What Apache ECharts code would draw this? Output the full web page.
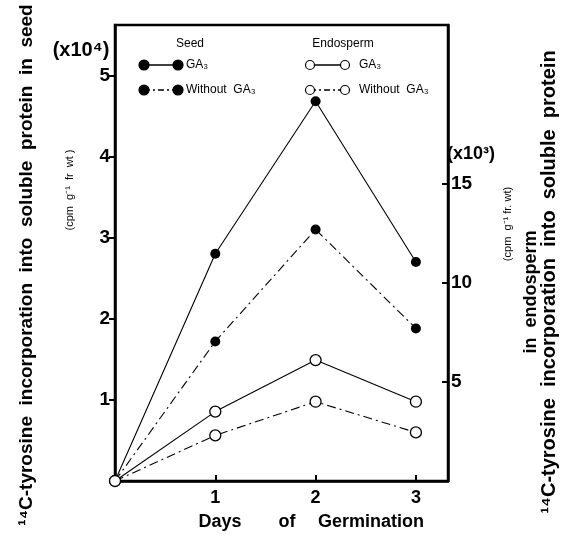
<!DOCTYPE html>
<html>
<head>
<meta charset="utf-8">
<script src="https://cdn.jsdelivr.net/npm/echarts@6/dist/echarts.min.js"></script>
<style>html,body{margin:0;padding:0;background:#fff;}#c{width:563px;height:536px;}</style>
</head>
<body>
<div id="c"></div>
<script>
// ---- data ----
const days = [0, 1, 2, 3];
const seedGA3 = [0, 2.8, 4.68, 2.7];          // left axis (x10^4)
const seedNoGA3 = [0, 1.72, 3.1, 1.88];       // left axis (x10^4)
const endoGA3 = [0, 3.5, 6.1, 4.0];           // right axis (x10^3)
const endoNoGA3 = [0, 2.3, 4.0, 2.45];        // right axis (x10^3)
const xTickLabels = [1, 2, 3];
const leftTickLabels = [1, 2, 3, 4, 5];
const rightTickLabels = [5, 10, 15];

const pair = (xs, ys) => xs.map((x, i) => [x, ys[i]]);
const chart = echarts.init(document.getElementById('c'));
const boldFont = 'Liberation Sans';
const dashDot = [9, 4, 2, 4];

function mk(name, data, yIdx, filled, dashed) {
  return {
    name, type: 'line', yAxisIndex: yIdx, data,
    symbol: 'circle', symbolSize: filled ? 10 : 11,
    itemStyle: { color: filled ? '#000' : '#fff', borderColor: '#000', borderWidth: filled ? 0 : 1.3 },
    lineStyle: { color: '#000', width: 1.1, type: dashed ? dashDot : 'solid' },
    showSymbol: true, z: 3,
    emphasis: { disabled: true }, animation: false
  };
}

const option = {
  animation: false,
  grid: { left: 115, right: 115, top: 25, bottom: 55, show: true, borderColor: '#000', borderWidth: 2.5, backgroundColor: 'transparent' },
  xAxis: {
    type: 'value', min: 0, max: 3.32, interval: 1,
    axisLine: { lineStyle: { color: '#000', width: 2.5 } },
    axisTick: { inside: true, length: 6, lineStyle: { color: '#000', width: 2 }, customValues: xTickLabels },
    axisLabel: { customValues: xTickLabels, color: '#000', fontFamily: boldFont, fontWeight: 'bold', fontSize: 18, margin: 8 },
    splitLine: { show: false }
  },
  yAxis: [{
    type: 'value', min: 0, max: 5.62, interval: 1, position: 'left',
    axisLine: { show: true, lineStyle: { color: '#000', width: 2.5 } },
    axisTick: { show: true, inside: false, length: 6, lineStyle: { color: '#000', width: 2 }, customValues: leftTickLabels },
    axisLabel: { customValues: leftTickLabels, color: '#000', fontFamily: boldFont, fontWeight: 'bold', fontSize: 19, margin: 5 },
    splitLine: { show: false }
  }, {
    type: 'value', min: 0, max: 23.0, interval: 5, position: 'right',
    axisLine: { show: true, lineStyle: { color: '#000', width: 2.5 } },
    axisTick: { show: true, inside: true, length: 6, lineStyle: { color: '#000', width: 2 }, customValues: rightTickLabels },
    axisLabel: { customValues: rightTickLabels, color: '#000', fontFamily: boldFont, fontWeight: 'bold', fontSize: 19, margin: 3 },
    splitLine: { show: false }
  }],
  series: [
    mk('Seed GA₃', pair(days, seedGA3), 0, true, false),
    mk('Seed Without GA₃', pair(days, seedNoGA3), 0, true, true),
    mk('Endosperm GA₃', pair(days, endoGA3), 1, false, false),
    mk('Endosperm Without GA₃', pair(days, endoNoGA3), 1, false, true)
  ],
  graphic: (function () {
    const g = [];
    const txt = (x, y, text, size, weight, rot, align) => ({
      type: 'text', x, y, rotation: rot || 0,
      style: { text, fontFamily: boldFont, fontSize: size, fontWeight: weight || 'normal', fill: '#000', align: align || 'center', verticalAlign: 'middle' }
    });
    // axis titles
    g.push(txt(27, 265, '¹⁴C-tyrosine  incorporation  into  soluble  protein  in  seed', 19, 'bold', Math.PI / 2));
    g.push(txt(70, 190, '(cpm  g⁻¹  fr  wt )', 11, 'normal', Math.PI / 2));
    g.push(txt(81, 50, '(x10⁴)', 20, 'bold', 0));
    g.push(txt(549, 282, '¹⁴C-tyrosine  incorporation  into  soluble  protein', 20, 'bold', Math.PI / 2));
    g.push(txt(531, 292, 'in  endosperm', 18, 'bold', Math.PI / 2));
    g.push(txt(508, 224, '(cpm  g⁻¹ fr. wt)', 11, 'normal', Math.PI / 2));
    g.push(txt(471, 154, '(x10³)', 18, 'bold', 0));
    g.push(txt(220, 522, 'Days', 18, 'bold', 0));
    g.push(txt(287, 522, 'of', 18, 'bold', 0));
    g.push(txt(371, 522, 'Germination', 18, 'bold', 0));
    // legend
    g.push(txt(190, 44, 'Seed', 12, 'normal', 0));
    g.push(txt(343, 44, 'Endosperm', 12, 'normal', 0));
    const rows = [[65, false], [90, true]];
    rows.forEach(([y, dashed], i) => {
      [[144, 178, true, 186], [310, 345, false, 359]].forEach(([x1, x2, filled, tx]) => {
        g.push({ type: 'line', shape: { x1, y1: y, x2, y2: y }, style: { stroke: '#000', lineWidth: 1.4, lineDash: dashed ? [6, 3, 2, 3] : null } });
        [x1, x2].forEach(cx => g.push({ type: 'circle', shape: { cx, cy: y, r: filled ? 5 : 4.5 }, style: { fill: filled ? '#000' : '#fff', stroke: '#000', lineWidth: 1.2 }, z: 10 }));
        g.push(txt(tx, y, i === 0 ? 'GA₃' : 'Without  GA₃', 12, 'normal', 0, 'left'));
      });
    });
    return g;
  })()
};
chart.setOption(option);
</script>
</body>
</html>
